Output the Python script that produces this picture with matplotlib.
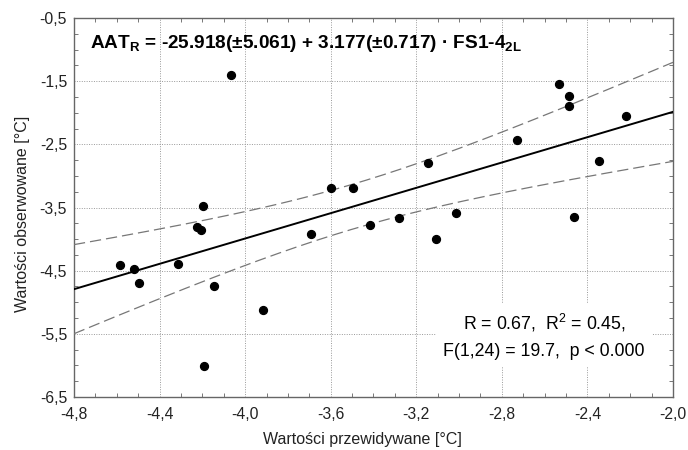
import matplotlib
matplotlib.use("Agg")
import matplotlib.pyplot as plt
from matplotlib.ticker import MultipleLocator, FixedLocator, FuncFormatter
import numpy as np

plt.rcParams['font.family'] = ['Liberation Sans', 'DejaVu Sans']
plt.rcParams['mathtext.fontset'] = 'custom'
plt.rcParams['mathtext.rm'] = 'Liberation Sans'
plt.rcParams['mathtext.bf'] = 'Liberation Sans:bold'

predicted = [-4.585, -4.520, -4.496, -4.314, -4.227, -4.205, -4.199, -4.190,
             -4.147, -4.068, -3.918, -3.694, -3.599, -3.495, -3.417, -3.280,
             -3.143, -3.107, -3.015, -2.730, -2.534, -2.485, -2.488, -2.465,
             -2.347, -2.219]
observed = [-4.41, -4.48, -4.69, -4.40, -3.81, -3.86, -3.47, -6.01,
            -4.75, -1.41, -5.12, -3.92, -3.19, -3.19, -3.77, -3.66,
            -2.80, -4.00, -3.59, -2.43, -1.55, -1.74, -1.90, -3.645,
            -2.77, -2.05]

x_ticks = [-4.8, -4.4, -4.0, -3.6, -3.2, -2.8, -2.4, -2.0]
y_ticks = [-6.5, -5.5, -4.5, -3.5, -2.5, -1.5, -0.5]

equation = ("AAT$_\\mathbf{R}$ = -25.918(±5.061) + 3.177(±0.717) · FS1-4$_\\mathbf{2L}$")
stats = "R = 0.67,  R$^\\mathrm{2}$ = 0.45,\nF(1,24) = 19.7,  p < 0.000"
x_label = "Wartości przewidywane [°C]"
y_label = "Wartości obserwowane [°C]"

x = np.array(predicted)
y = np.array(observed)

# linear fit + 95% confidence band
b1, b0 = np.polyfit(x, y, 1)
n = len(x)
resid = y - (b0 + b1 * x)
s = np.sqrt(np.sum(resid ** 2) / (n - 2))
sxx = np.sum((x - x.mean()) ** 2)
t = 2.064
xs = np.linspace(x_ticks[0], x_ticks[-1], 200)
fit = b0 + b1 * xs
half = t * s * np.sqrt(1.0 / n + (xs - x.mean()) ** 2 / sxx)

fig = plt.figure(figsize=(6.88, 4.5), dpi=100)
ax = fig.add_axes([74 / 688, 1 - 397 / 450, 599 / 688, 379 / 450])

ax.plot(xs, fit, color='black', lw=1.4, zorder=3)
ax.plot(xs, fit + half, color='#777777', lw=0.9, dashes=(9, 4), zorder=3)
ax.plot(xs, fit - half, color='#777777', lw=0.9, dashes=(9, 4), zorder=3)
ax.scatter(x, y, s=32, color='black', zorder=4)

ax.set_xlim(x_ticks[0], x_ticks[-1])
ax.set_ylim(y_ticks[0], y_ticks[-1])
ax.xaxis.set_major_locator(FixedLocator(x_ticks))
ax.xaxis.set_minor_locator(MultipleLocator(0.1))
ax.yaxis.set_major_locator(FixedLocator(y_ticks))
ax.yaxis.set_minor_locator(MultipleLocator(0.25))
comma = FuncFormatter(lambda v, p: ("%.1f" % v).replace('.', ','))
ax.xaxis.set_major_formatter(comma)
ax.yaxis.set_major_formatter(comma)

ax.grid(True, which='major', color='#999999', ls=(0, (1, 1.5)), lw=0.7)
ax.tick_params(which='major', length=0, labelsize=11.3, labelcolor='#222222')
ax.tick_params(axis='x', which='major', pad=7)
ax.tick_params(axis='y', which='major', pad=5)
ax.tick_params(which='minor', direction='in', length=3, width=0.7,
               color='#777777', top=True, right=True)
for sp in ax.spines.values():
    sp.set_color('#666666')
    sp.set_linewidth(1.0)

ax.set_xlabel(x_label, fontsize=11.5, color='#222222')
ax.set_ylabel(y_label, fontsize=11.5, color='#222222')
ax.xaxis.set_label_coords(0.481, -0.092)
ax.yaxis.set_label_coords(-0.073, 0.483)

ax.text(90 / 688, 1 - 43 / 450, equation, transform=fig.transFigure,
        fontsize=13.7, fontweight='bold', va='center', ha='left', zorder=5)
ax.text(544 / 688, 1 - 336 / 450, stats, transform=fig.transFigure,
        fontsize=12.8, ha='center', va='center', linespacing=1.7, zorder=5,
        bbox=dict(facecolor='white', edgecolor='none', pad=5))

fig.savefig("out.png", dpi=100)
